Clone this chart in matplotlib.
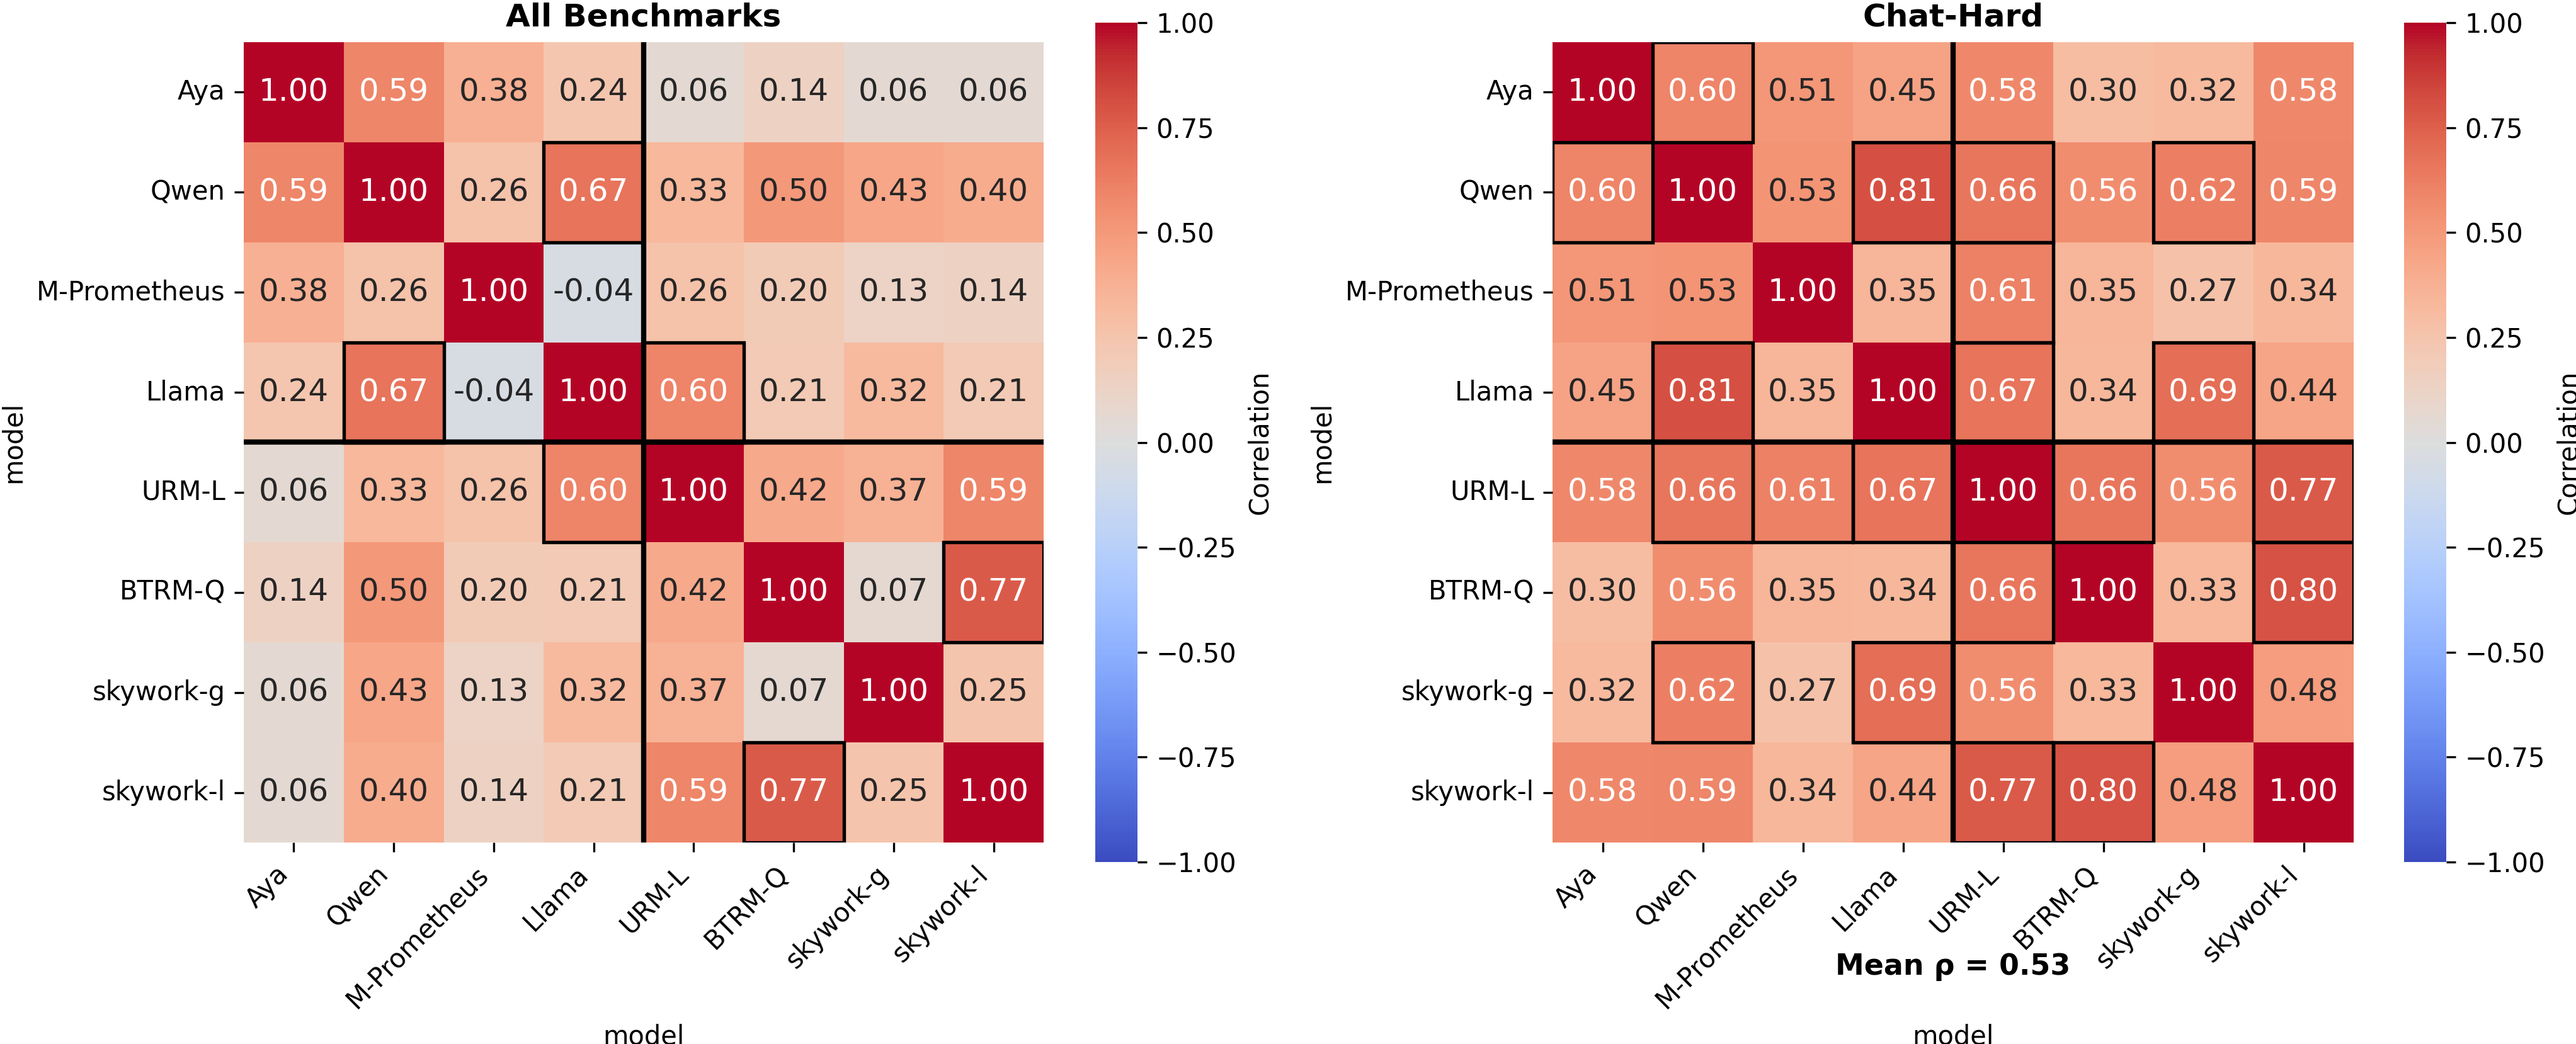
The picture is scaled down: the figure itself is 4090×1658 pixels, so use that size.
import numpy as np
import matplotlib
matplotlib.use("Agg")
import matplotlib.pyplot as plt
import seaborn as sns
from matplotlib.patches import Rectangle

# models, in plotting order
MODELS = ["Aya", "Qwen", "M-Prometheus", "Llama", "URM-L", "BTRM-Q", "skywork-g", "skywork-l"]

# correlation matrices
ALL_BENCH = [
    [1.00, 0.59, 0.38, 0.24, 0.06, 0.14, 0.06, 0.06],
    [0.59, 1.00, 0.26, 0.67, 0.33, 0.50, 0.43, 0.40],
    [0.38, 0.26, 1.00, -0.04, 0.26, 0.20, 0.13, 0.14],
    [0.24, 0.67, -0.04, 1.00, 0.60, 0.21, 0.32, 0.21],
    [0.06, 0.33, 0.26, 0.60, 1.00, 0.42, 0.37, 0.59],
    [0.14, 0.50, 0.20, 0.21, 0.42, 1.00, 0.07, 0.77],
    [0.06, 0.43, 0.13, 0.32, 0.37, 0.07, 1.00, 0.25],
    [0.06, 0.40, 0.14, 0.21, 0.59, 0.77, 0.25, 1.00],
]
CHAT_HARD = [
    [1.00, 0.60, 0.51, 0.45, 0.58, 0.30, 0.32, 0.58],
    [0.60, 1.00, 0.53, 0.81, 0.66, 0.56, 0.62, 0.59],
    [0.51, 0.53, 1.00, 0.35, 0.61, 0.35, 0.27, 0.34],
    [0.45, 0.81, 0.35, 1.00, 0.67, 0.34, 0.69, 0.44],
    [0.58, 0.66, 0.61, 0.67, 1.00, 0.66, 0.56, 0.77],
    [0.30, 0.56, 0.35, 0.34, 0.66, 1.00, 0.33, 0.80],
    [0.32, 0.62, 0.27, 0.69, 0.56, 0.33, 1.00, 0.48],
    [0.58, 0.59, 0.34, 0.44, 0.77, 0.80, 0.48, 1.00],
]

GROUP_SPLIT = 4      # generative LLMs | reward models
HIGHLIGHT = 0.6      # box off-diagonal cells at or above this


def draw_panel(hm_ax, cb_ax, mat, title, show_mean=False):
    mat = np.array(mat)
    sns.heatmap(mat, ax=hm_ax, cbar_ax=cb_ax, cmap="coolwarm", vmin=-1, vmax=1,
                annot=True, fmt=".2f", annot_kws={"size": 12},
                xticklabels=MODELS, yticklabels=MODELS,
                cbar_kws={"label": "Correlation"})
    n = len(MODELS)
    for i in range(n):
        for j in range(n):
            if i != j and mat[i, j] >= HIGHLIGHT:
                hm_ax.add_patch(Rectangle((j, i), 1, 1, fill=False,
                                          edgecolor="black", lw=1.3))
    hm_ax.axhline(GROUP_SPLIT, color="black", lw=2)
    hm_ax.axvline(GROUP_SPLIT, color="black", lw=2)
    hm_ax.set_title(title, fontsize=12, fontweight="bold")
    hm_ax.set_xlabel("model")
    hm_ax.set_ylabel("model")
    plt.setp(hm_ax.get_xticklabels(), rotation=45, ha="right")
    plt.setp(hm_ax.get_yticklabels(), rotation=0)
    if show_mean:
        off = mat[~np.eye(n, dtype=bool)]
        hm_ax.text(0.5, -0.155, f"Mean \u03c1 = {off.mean():.2f}",
                   transform=hm_ax.transAxes, ha="center", va="center",
                   fontsize=11, fontweight="bold")


W, H = 4090, 1658
fig = plt.figure(figsize=(W / 300, H / 300), dpi=300)

def px_axes(x0, y0, x1, y1):
    return fig.add_axes([x0 / W, 1 - y1 / H, (x1 - x0) / W, (y1 - y0) / H])

ax1 = px_axes(387, 67, 1657, 1338)
cb1 = px_axes(1739, 36, 1806, 1369)
ax2 = px_axes(2465, 67, 3737, 1338)
cb2 = px_axes(3817, 36, 3884, 1369)

draw_panel(ax1, cb1, ALL_BENCH, "All Benchmarks")
draw_panel(ax2, cb2, CHAT_HARD, "Chat-Hard", show_mean=True)

fig.savefig("out.png", dpi=300)
